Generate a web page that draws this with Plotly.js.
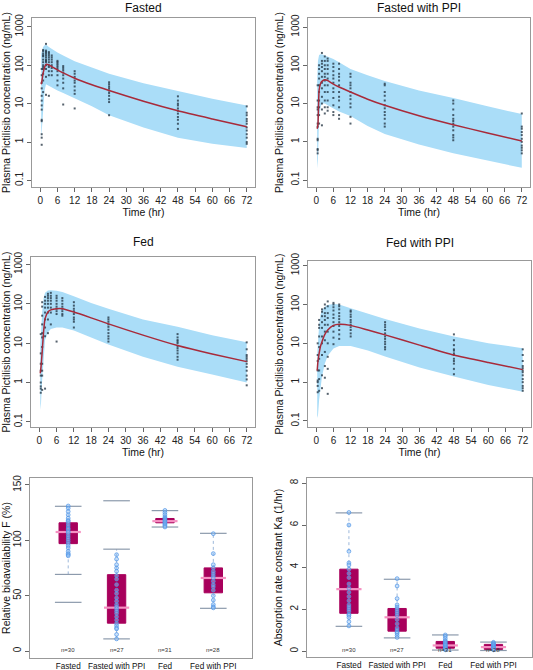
<!DOCTYPE html>
<html>
<head>
<meta charset="utf-8">
<script src="https://cdn.plot.ly/plotly-3.0.1.min.js"></script>
<style>
html,body{margin:0;padding:0;background:#fff;}
#chart{width:533px;height:670px;}
</style>
</head>
<body>
<div id="chart"></div>
<script>
// ---------------- DATA ----------------
const panelTitles = ["Fasted", "Fasted with PPI", "Fed", "Fed with PPI"];
const xTicks = [0, 6, 12, 18, 24, 30, 36, 42, 48, 54, 60, 66, 72];
const yTickVals = [0.1, 1, 10, 100, 1000];
const yTickText = ["0.1", "1", "10", "100", "1000"];

// simulated profile grid (hr)
const gridT = [0.33, 0.6, 1, 1.5, 2, 3, 4, 6, 8, 12, 18, 24, 36, 48, 60, 72];

const fastedMed = [32, 40, 62, 88, 105, 102, 92, 76, 63, 46, 31, 22, 11.5, 6.5, 4, 2.5];
const fastedUp  = [200, 260, 300, 330, 345, 300, 265, 215, 180, 128, 88, 60, 34, 21, 13.5, 9];
const fastedLo  = [1.2, 2.4, 10, 22, 32, 29, 27, 22, 19, 14, 8.5, 5, 2.4, 1.3, 0.9, 0.7];

const fastedPpiMed = [2.2, 2.8, 22, 33, 38, 42, 40, 32, 27, 20, 13, 9, 4.8, 2.8, 1.7, 1.05];
const fastedPpiUp  = [40, 130, 185, 195, 195, 182, 170, 145, 120, 80, 55, 39, 22, 14, 8.5, 5.3];
const fastedPpiLo  = [0.2, 0.35, 4.5, 8, 10, 10, 9, 7.5, 6.2, 4.7, 2.6, 1.6, 0.85, 0.5, 0.32, 0.21];

const fedMed = [1.7, 2.5, 6, 20, 42, 62, 70, 75, 75, 62, 44, 31, 16, 8.7, 5.3, 3.4];
const fedUp  = [8, 20, 60, 140, 190, 218, 222, 215, 200, 155, 105, 75, 40, 26, 16, 10.6];
const fedLo  = [0.2, 0.3, 1.2, 5, 12, 19, 23, 25, 25, 21, 14, 9.3, 4.5, 2.5, 1.6, 1.0];

const fedPpiMed = [2, 3.5, 5.5, 8.5, 11, 17, 22, 29, 31, 29, 22, 16.5, 9, 5, 3.2, 2.1];
const fedPpiUp  = [5, 10, 30, 55, 70, 88, 97, 103, 100, 80, 58, 42, 24, 15, 10, 7.5];
const fedPpiLo  = [0.12, 0.14, 0.35, 0.8, 1.4, 3, 4.8, 7.4, 8.5, 8.5, 6.5, 4.6, 2.4, 1.4, 0.85, 0.57];

// observed concentrations by nominal time (hr)
const obsTimes = [0.5, 1, 2, 3, 4, 6, 8, 12, 24, 48, 72];

const fastedObs = [
  [0.85, 1.3, 1.6, 3.5, 3.8, 7, 9, 12, 16, 25, 35, 55, 80],
  [20, 40, 60, 80, 100, 120, 140, 170, 180, 200, 230, 250, 90],
  [17, 50, 80, 100, 120, 130, 140, 160, 180, 200, 220, 240, 360],
  [16, 55, 70, 90, 100, 120, 140, 160, 180, 200, 220],
  [55, 70, 85, 100, 120, 140, 160, 180],
  [30, 40, 55, 70, 80, 90, 100, 110, 120, 130],
  [9.5, 25, 35, 45, 55, 65, 75, 85, 95],
  [7.5, 18, 22, 28, 35, 40, 50, 60, 70],
  [5, 11, 13, 16, 19, 22, 25, 28, 32, 36],
  [2.2, 3, 3.8, 4.5, 5.5, 6.5, 7.5, 9, 10, 12, 15.5],
  [0.9, 1, 1.3, 1.6, 2, 2.4, 3, 3.5, 4, 5, 5.8, 8.5]
];
const fastedPpiObs = [
  [0.5, 0.6, 0.65, 1.1, 1.2, 2.5, 3, 5, 7, 8, 12, 30],
  [3, 5, 8, 12, 20, 30, 45, 60, 80, 100],
  [2.7, 7, 10, 15, 25, 35, 50, 70, 90, 110, 130, 210],
  [5.5, 8, 12, 20, 30, 40, 50, 60, 80, 100, 130, 170],
  [6.5, 8, 12, 20, 30, 45, 60, 80, 100, 130, 150],
  [5, 6, 9, 14, 20, 25, 35, 45, 55, 70, 90, 110],
  [4, 5, 8, 12, 15, 20, 30, 40, 50, 60, 80, 110],
  [3, 4.5, 8, 10, 13, 16, 20, 25, 30, 35, 50, 60],
  [2.5, 3, 4, 5, 6, 7.5, 9, 12, 16, 20, 30, 33],
  [1.1, 1.3, 1.5, 2, 2.5, 3, 3.5, 4, 5, 7, 10, 12],
  [0.5, 0.6, 0.7, 0.8, 1, 1.2, 1.5, 1.8, 2.2, 2.5, 5.5]
];
const fedObs = [
  [0.55, 0.7, 0.8, 1, 1.5, 2, 3, 5.5, 17],
  [0.65, 1.5, 2, 3, 8, 14, 18, 30, 50, 85, 110],
  [0.7, 15, 25, 40, 60, 80, 100, 120, 150],
  [18, 40, 60, 80, 100, 120, 140, 160, 180],
  [30, 60, 80, 100, 120, 140, 160, 190],
  [11, 55, 65, 75, 85, 100, 120, 140, 160],
  [50, 55, 65, 75, 85, 100, 120, 140],
  [25, 35, 40, 45, 55, 65, 75, 90, 110],
  [11, 13, 15, 18, 22, 26, 30, 35, 40, 45],
  [3.8, 4.5, 5.5, 6.5, 7.5, 8.5, 10, 11, 12, 14, 17],
  [0.85, 1.2, 1.5, 2, 2.5, 3, 3.5, 4, 4.5, 5, 7, 10.5]
];
const fedPpiObs = [
  [0.55, 0.8, 1, 1.1, 2, 3.5, 5, 10],
  [0.6, 1.2, 2, 4, 8, 15, 25, 30, 40],
  [0.7, 1.5, 5, 10, 15, 25, 35, 50, 65, 75],
  [1.3, 2.6, 6, 12, 20, 30, 40, 50, 60, 80, 100],
  [0.5, 2.2, 4.5, 10, 20, 30, 45, 60, 90, 120],
  [9.5, 14, 20, 28, 35, 45, 55, 70, 85, 100, 110],
  [13, 17, 22, 28, 35, 42, 50, 60, 75, 90, 100],
  [15, 18, 22, 26, 30, 35, 40, 48, 55, 65, 70],
  [7, 8, 9.5, 11, 13, 15, 18, 22, 26, 30, 35],
  [1.6, 2.2, 3, 3.5, 4, 5, 5.5, 6.5, 7, 9, 12, 17],
  [0.6, 0.7, 0.8, 1, 1.2, 1.5, 1.8, 2, 2.3, 2.6, 3.5, 5, 7]
];

// box plots
const groups = ["Fasted", "Fasted with PPI", "Fed", "Fed with PPI"];
const groupN = ["n=30", "n=27", "n=31", "n=28"];

const fQ1 = [97, 25.2, 115.8, 52.6];
const fMedian = [107.5, 39.2, 117.3, 66];
const fQ3 = [115.8, 69, 119.7, 75.1];
const fLow = [69.2, 11, 112, 38.6];
const fHigh = [130.7, 92, 126.8, 106.3];
const fOutliers = [[44], [135.7], [], []];
const fPoints = [
  [131, 129, 126, 123, 120, 118, 117, 115, 113, 111, 110, 108, 107, 105, 103, 101, 99, 97, 95, 93, 90, 88, 87, 86],
  [87, 83, 78, 75, 72, 68, 65, 60, 55, 52, 48, 45, 42, 40, 38, 36, 34, 31, 28, 25, 23, 21, 20, 15, 11],
  [127, 125, 123, 121, 120, 119, 118, 117, 116, 115, 114, 113, 112],
  [106, 88, 78, 75, 72, 70, 68, 66, 63, 60, 58, 55, 50, 46, 42, 40, 39]
];

const kaQ1 = [1.8, 0.95, 0.14, 0.08];
const kaMedian = [2.95, 1.61, 0.27, 0.19];
const kaQ3 = [3.9, 2.03, 0.46, 0.32];
const kaLow = [1.18, 0.63, 0.05, 0.03];
const kaHigh = [6.58, 3.42, 0.77, 0.43];
const kaPoints = [
  [6.6, 6.0, 4.75, 4.2, 4.1, 3.9, 3.7, 3.5, 3.2, 3.0, 2.8, 2.6, 2.4, 2.2, 2.1, 2.0, 1.9, 1.75, 1.7, 1.6, 1.4, 1.2],
  [3.45, 3.1, 2.5, 2.2, 2.1, 2.0, 1.9, 1.8, 1.7, 1.5, 1.3, 1.1, 1.0, 0.9, 0.85, 0.75, 0.65],
  [0.77, 0.7, 0.6, 0.5, 0.45, 0.4, 0.35, 0.3, 0.27, 0.22, 0.18, 0.14, 0.1, 0.06],
  [0.42, 0.38, 0.33, 0.3, 0.26, 0.22, 0.19, 0.15, 0.12, 0.09, 0.06]
];

// ---------------- STYLE ----------------
const FONT = "Liberation Sans, Arial, Helvetica, sans-serif";
const BAND = "#AADDF8";
const RED = "#A82A3A";
const PT = "#1E2D3C";
const BOX = "#A8005C";
const MEDC = "#F590C2";
const WHISK = "#9DB8DA";
const CAP = "#8C9AAC";
const BLUEPT = "#4D94E6";

const traces = [];
const pkSets = [
  {med: fastedMed, up: fastedUp, lo: fastedLo, obs: fastedObs},
  {med: fastedPpiMed, up: fastedPpiUp, lo: fastedPpiLo, obs: fastedPpiObs},
  {med: fedMed, up: fedUp, lo: fedLo, obs: fedObs},
  {med: fedPpiMed, up: fedPpiUp, lo: fedPpiLo, obs: fedPpiObs}
];
pkSets.forEach((s, i) => {
  const xa = i === 0 ? "x" : "x" + (i + 1);
  const ya = i === 0 ? "y" : "y" + (i + 1);
  traces.push({x: gridT, y: s.lo, xaxis: xa, yaxis: ya, type: "scatter", mode: "lines",
    line: {width: 0, color: BAND}, hoverinfo: "skip"});
  traces.push({x: gridT, y: s.up, xaxis: xa, yaxis: ya, type: "scatter", mode: "lines",
    fill: "tonexty", fillcolor: BAND, line: {width: 0, color: BAND}, hoverinfo: "skip"});
  const ox = [], oy = [];
  obsTimes.forEach((t, k) => s.obs[k].forEach(v => { ox.push(t); oy.push(v); }));
  traces.push({x: ox, y: oy, xaxis: xa, yaxis: ya, type: "scatter", mode: "markers",
    marker: {symbol: "square", size: 2, color: PT, opacity: 0.75}});
  traces.push({x: gridT, y: s.med, xaxis: xa, yaxis: ya, type: "scatter", mode: "lines",
    line: {width: 1.5, color: RED, shape: "spline", smoothing: 0.5}});
});

function boxTraces(xa, ya, q1, med, q3, lo, hi, outl, pts) {
  const idx = groups.map((g, i) => i);
  traces.push({type: "box", x: idx, q1: q1, median: med, q3: q3, lowerfence: q1, upperfence: q3,
    xaxis: xa, yaxis: ya, width: 0.38, whiskerwidth: 0, fillcolor: BOX,
    line: {color: BOX, width: 1}, boxpoints: false, hoverinfo: "skip"});
  const wx = [], wy = [];
  idx.forEach(i => { wx.push(i, i, null, i, i, null); wy.push(lo[i], q1[i], null, q3[i], hi[i], null); });
  traces.push({x: wx, y: wy, xaxis: xa, yaxis: ya, type: "scatter", mode: "lines",
    line: {color: WHISK, width: 1, dash: "dot"}, hoverinfo: "skip"});
  const cx = [], cy = [];
  idx.forEach(i => { cx.push(i, i); cy.push(lo[i], hi[i]); outl[i].forEach(v => { cx.push(i); cy.push(v); }); });
  traces.push({x: cx, y: cy, xaxis: xa, yaxis: ya, type: "scatter", mode: "markers",
    marker: {symbol: "line-ew-open", size: 19, color: CAP, line: {color: CAP, width: 1.2}}});
  traces.push({x: idx, y: med, xaxis: xa, yaxis: ya, type: "scatter", mode: "markers",
    marker: {symbol: "line-ew-open", size: 18, color: MEDC, line: {color: MEDC, width: 2.2}}});
  const px = [], py = [];
  idx.forEach(i => pts[i].forEach(v => { px.push(i); py.push(v); }));
  traces.push({x: px, y: py, xaxis: xa, yaxis: ya, type: "scatter", mode: "markers",
    marker: {symbol: "circle", size: 3.8, color: "rgba(150,195,245,0.5)", line: {color: BLUEPT, width: 0.7}}});
}
boxTraces("x5", "y5", fQ1, fMedian, fQ3, fLow, fHigh, fOutliers, fPoints);
boxTraces("x6", "y6", kaQ1, kaMedian, kaQ3, kaLow, kaHigh, [[], [], [], []], kaPoints);

// ---------------- LAYOUT ----------------
const W = 533, H = 670;
const fx = (a, b) => [a / W, b / W];
const fy = (top, bot) => [1 - bot / H, 1 - top / H];

function pkX(dom, anchor) {
  return {domain: dom, anchor: anchor, range: [-2.88, 74.88], tickvals: xTicks, ticks: "outside",
    ticklen: 4, tickcolor: "#666", showline: true, mirror: true, linecolor: "#999", linewidth: 1,
    showgrid: false, zeroline: false, tickfont: {size: 10, color: "#222", family: FONT},
    title: {text: "Time (hr)", font: {size: 10.5, color: "#111", family: FONT}, standoff: 2}};
}
function pkY(dom, anchor, rng) {
  return {domain: dom, anchor: anchor, type: "log", range: rng, tickvals: yTickVals, ticktext: yTickText,
    tickangle: -90, ticks: "outside", ticklen: 4, tickcolor: "#666", showline: true, mirror: true,
    linecolor: "#999", linewidth: 1, showgrid: false, zeroline: false,
    tickfont: {size: 10, color: "#222", family: FONT},
    title: {text: "Plasma Pictilisib concentration (ng/mL)", font: {size: 10.5, color: "#111", family: FONT}, standoff: 4}};
}
function bxX(dom, anchor, rng) {
  return {domain: dom, anchor: anchor, range: rng, tickvals: [0, 1, 2, 3], ticktext: groups, ticks: "",
    tickangle: 0, showline: true, mirror: true, linecolor: "#999", linewidth: 1, showgrid: false, zeroline: false,
    tickfont: {size: 8.2, color: "#111", family: FONT}};
}
function bxY(dom, anchor, rng, tv, title) {
  return {domain: dom, anchor: anchor, range: rng, tickvals: tv, tickangle: -90, ticks: "outside",
    ticklen: 4, tickcolor: "#666", showline: true, mirror: true, linecolor: "#999", linewidth: 1,
    showgrid: false, zeroline: false, tickfont: {size: 10, color: "#222", family: FONT},
    title: {text: title, font: {size: 10.5, color: "#111", family: FONT}, standoff: 4}};
}

const layout = {
  width: W, height: H, margin: {l: 0, r: 0, t: 0, b: 0}, showlegend: false,
  paper_bgcolor: "#fff", plot_bgcolor: "#fff", font: {family: FONT},
  xaxis: pkX(fx(32, 255), "y"),
  yaxis: pkY(fy(18, 187), "x", [-1.17, 3.23]),
  xaxis2: pkX(fx(308, 530), "y2"),
  yaxis2: pkY(fy(18, 187), "x2", [-1.18, 3.235]),
  xaxis3: pkX(fx(31, 255), "y3"),
  yaxis3: pkY(fy(257, 427), "x3", [-1.13, 3.19]),
  xaxis4: pkX(fx(308, 531), "y4"),
  yaxis4: pkY(fy(261, 427), "x4", [-1.155, 3.12]),
  xaxis5: bxX(fx(30, 252), "y5", [-0.79, 3.8]),
  yaxis5: bxY(fy(478, 658), "x5", [-6.25, 156.25], [0, 50, 100, 150], "Relative bioavailability F (%)"),
  xaxis6: bxX(fx(307, 532), "y6", [-0.87, 3.8]),
  yaxis6: bxY(fy(478, 657), "x6", [-0.28, 8.24], [0, 2, 4, 6, 8], "Absorption rate constant Ka (1/hr)"),
  annotations: []
};

const titlePos = [[143.5, 8], [419, 8], [143, 242], [419.5, 243]];
panelTitles.forEach((t, i) => {
  layout.annotations.push({text: t, xref: "paper", yref: "paper", x: titlePos[i][0] / W, y: 1 - titlePos[i][1] / H,
    xanchor: "center", yanchor: "middle", showarrow: false, font: {size: 12, color: "#111", family: FONT}});
});
groupN.forEach((n, i) => {
  layout.annotations.push({text: n, xref: "x5", yref: "y5", x: i, y: 1, showarrow: false,
    yanchor: "middle", font: {size: 6, color: "#333", family: FONT}});
  layout.annotations.push({text: n, xref: "x6", yref: "y6", x: i, y: 0.05, showarrow: false,
    yanchor: "middle", font: {size: 6, color: "#333", family: FONT}});
});

Plotly.newPlot("chart", traces, layout, {staticPlot: true, displayModeBar: false});
</script>
</body>
</html>
